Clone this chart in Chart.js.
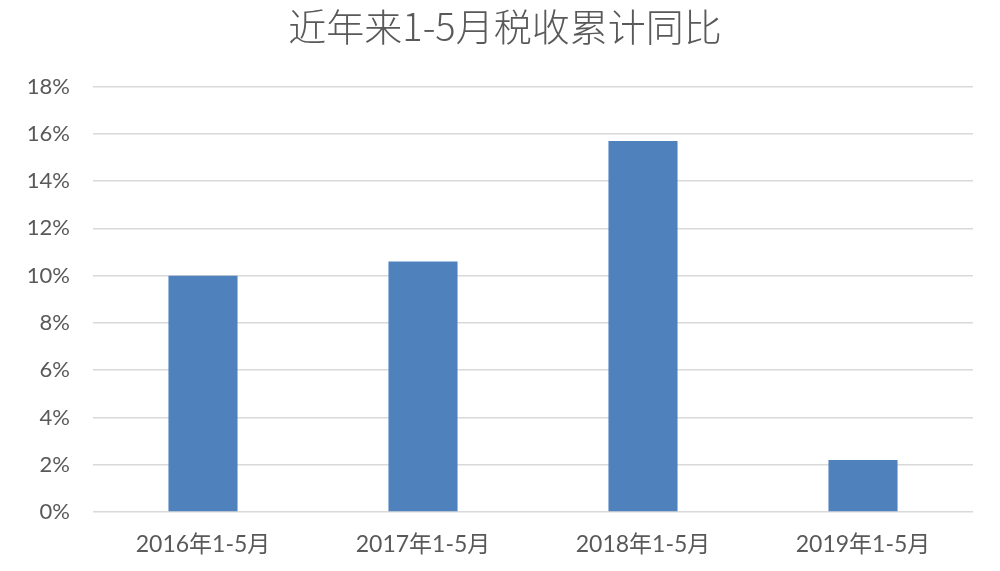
<!DOCTYPE html>
<html>
<head>
<meta charset="utf-8">
<script src="https://cdn.jsdelivr.net/npm/chart.js@4.4.0/dist/chart.umd.min.js"></script>
<style>
html,body{margin:0;padding:0;background:#fff;}
#wrap{width:1000px;height:571px;position:relative;}
</style>
</head>
<body>
<div id="wrap"><canvas id="c" width="1000" height="571"></canvas></div>
<script>
const categories = ["2016年1-5月", "2017年1-5月", "2018年1-5月", "2019年1-5月"];
const values = [10.0, 10.6, 15.7, 2.2];
const titleText = "近年来1-5月税收累计同比";

const FONT = "Lato, 'Noto Sans CJK SC', sans-serif";
const GRAY = "#595959";

new Chart(document.getElementById("c"), {
  type: "bar",
  data: {
    labels: categories,
    datasets: [{
      data: values,
      backgroundColor: "#4F81BD",
      borderWidth: 0,
      categoryPercentage: 1.0,
      barPercentage: 0.314
    }]
  },
  options: {
    responsive: false,
    animation: false,
    devicePixelRatio: 1,
    layout: { padding: { left: 10, right: 0, top: 0, bottom: 8 } },
    plugins: {
      legend: { display: false },
      tooltip: { enabled: false },
      title: {
        display: true,
        text: titleText,
        color: GRAY,
        font: { family: "'Noto Sans CJK SC', sans-serif", size: 38, weight: 300 },
        padding: { top: 4, bottom: 37 }
      }
    },
    scales: {
      x: {
        grid: { display: false, drawTicks: false },
        border: { display: false },
        ticks: { color: GRAY, font: { family: FONT, size: 23 }, padding: 19, maxRotation: 0 },
        afterFit: (s) => { s.height = 51; }
      },
      y: {
        min: 0, max: 18,
        grid: { color: "#d9d9d9", lineWidth: 1.5, drawTicks: false },
        border: { display: false },
        ticks: {
          stepSize: 2,
          color: GRAY,
          font: { family: FONT, size: 22 },
          padding: 23,
          callback: (v) => v + "%"
        },
        afterFit: (s) => { s.width = 83; }
      },
      yRight: {
        position: "right",
        display: true,
        grid: { display: false, drawOnChartArea: false, drawTicks: false },
        border: { display: false },
        ticks: { display: false },
        afterFit: (s) => { s.width = 27; }
      }
    }
  }
});
</script>
</body>
</html>
